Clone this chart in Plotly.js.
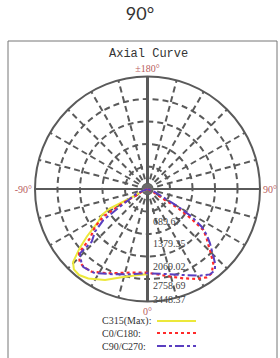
<!DOCTYPE html>
<html>
<head>
<meta charset="utf-8">
<script src="https://cdn.plot.ly/plotly-3.0.1.min.js"></script>
<style>
html,body{margin:0;padding:0;background:#fff;}
#chart{width:280px;height:358px;}
</style>
</head>
<body>
<div id="chart"></div>
<script>
// ---- data ----
const maxIntensity = 3448.37;
const ringValues = [689.67, 1379.35, 2069.02, 2758.69, 3448.37];
const ringLabels = ['689.67', '1379.35', '2069.02', '2758.69', '3448.37'];

const c315Theta = [-90, -65, -62.1, -62.8, -60.4, -56.4, -52, -49, -45.5, -42.5, -38.5, -33.5, -25, -16.3, -6.1, 0];
const c315R     = [0, 196, 721, 1293, 1615, 1811, 2350, 2750, 3200, 3340, 3370, 3290, 3078, 2820, 2651, 2615];

const c0Theta = [-90, -72, -61, -59.8, -57.9, -54.3, -49.4, -47, -43, -39.5, -34, -25, -11, 0, 12.4, 21.8, 28.7, 33.8, 37.3, 41.5, 45.7, 47.4, 50.2, 53.7, 55.8, 57.9, 57.8, 62, 90];
const c0R     = [0, 120, 380, 975, 1600, 1981, 2321, 2870, 3050, 3090, 3060, 2850, 2611, 2566, 2731, 2949, 3144, 3259, 3249, 3042, 2677, 2534, 2361, 2123, 1637, 1114, 634, 200, 0];

const c90Theta = [-90, -68, -57.2, -54.9, -50.9, -46.6, -46.4, -42, -39.4, -32, -21, -10, 0, 12.7, 22.6, 31.2, 36.2, 39.8, 42.3, 46.5, 49, 52.2, 55.2, 57.9, 60.1, 62, 68, 90];
const c90R     = [0, 356, 1002, 1655, 2075, 2353, 2857, 3030, 3100, 3044, 2800, 2650, 2585, 2671, 2855, 3106, 3243, 3232, 3077, 2713, 2538, 2298, 2023, 1599, 1089, 607, 250, 0];

const seriesNames = ['C315(Max):', 'C0/C180:', 'C90/C270:'];
const angleTicks = [0,15,30,45,60,75,90,105,120,135,150,165,180,195,210,225,240,255,270,285,300,315,330,345];
const angleTickText = {0:'0°', 90:'90°', 180:'±180°', 270:'-90°'};

// ---- styles ----
const gridCol = '#5a5a5a';
const labelRed = '#b85c5c';
const W = 280, H = 358;
const px = v => v / W, py = v => 1 - v / H;

const traces = [
  {type:'scatterpolar', mode:'lines', theta:[180,180,0], r:[maxIntensity,0,maxIntensity],
   line:{color:gridCol, width:3}, hoverinfo:'skip', showlegend:false},
  {type:'scatterpolar', mode:'lines', theta:[90,90,270], r:[maxIntensity,0,maxIntensity],
   line:{color:gridCol, width:2}, hoverinfo:'skip', showlegend:false},
  {type:'scatterpolar', mode:'markers', theta:[0], r:[0],
   marker:{color:'#6a6a6a', size:11}, hoverinfo:'skip', showlegend:false},
  {type:'scatterpolar', mode:'lines', name:seriesNames[0], theta:c315Theta, r:c315R,
   line:{color:'#ece83a', width:2}, showlegend:false},
  {type:'scatterpolar', mode:'lines', name:seriesNames[1], theta:c0Theta, r:c0R,
   line:{color:'#ff2a2a', width:2.2, dash:'dot'}, showlegend:false},
  {type:'scatterpolar', mode:'lines', name:seriesNames[2], theta:c90Theta, r:c90R,
   line:{color:'#5a3fc0', width:2, dash:'dashdot'}, showlegend:false}
];

const legendY = [321, 333, 346];
const legendStyles = [
  {color:'#ece83a', width:2, dash:'solid'},
  {color:'#ff2a2a', width:2.2, dash:'dot'},
  {color:'#5a3fc0', width:2, dash:'dashdot'}
];
const ringLabelY = [221, 244, 266, 285, 299];

const annotations = [
  {text:'Axial Curve', xref:'paper', yref:'paper', x:px(148), y:py(54), showarrow:false,
   font:{family:'Liberation Mono', size:12, color:'#333'}, xanchor:'center', yanchor:'middle'}
];
ringLabels.forEach((t,i)=>{
  annotations.push({text:t, xref:'paper', yref:'paper', x:px(151), y:py(ringLabelY[i]), showarrow:false,
    xanchor:'left', yanchor:'middle', font:{family:'Liberation Serif', size:10, color:'#444'}});
});
const shapes = [
  {type:'rect', xref:'paper', yref:'paper', x0:px(8), x1:px(277), y0:-0.05, y1:py(41),
   line:{color:'#777', width:1}, fillcolor:'rgba(0,0,0,0)', layer:'below'}
];
seriesNames.forEach((n,i)=>{
  annotations.push({text:n, xref:'paper', yref:'paper', x:px(100), y:py(legendY[i]), showarrow:false,
    xanchor:'left', yanchor:'middle', font:{family:'Liberation Serif', size:10, color:'#333'}});
  shapes.push({type:'line', xref:'paper', yref:'paper', x0:px(157), x1:px(196), y0:py(legendY[i]), y1:py(legendY[i]),
    line:legendStyles[i]});
});

const layout = {
  width:W, height:H,
  margin:{l:0, r:0, t:0, b:0},
  paper_bgcolor:'#fff',
  showlegend:false,
  title:{text:'90°', x:0.5, xanchor:'center', y:py(14), yanchor:'middle',
         font:{family:'Lato', size:18, color:'#333'}},
  polar:{
    domain:{x:[px(35), px(260)], y:[1-301.5/H, 1-76.5/H]},
    bgcolor:'#fff',
    angularaxis:{
      rotation:-90, direction:'counterclockwise', thetaunit:'degrees',
      tickmode:'array', tickvals:angleTicks,
      ticktext:angleTicks.map(a => angleTickText[a] || ''),
      ticks:'', showline:true, linecolor:gridCol, linewidth:2,
      gridcolor:gridCol, gridwidth:2, griddash:'6px,4px',
      tickfont:{family:'Liberation Serif', size:10, color:labelRed}
    },
    radialaxis:{
      range:[0, maxIntensity], tickmode:'array', tickvals:ringValues,
      showticklabels:false, ticks:'', showline:false,
      gridcolor:gridCol, gridwidth:2, griddash:'6px,4px'
    }
  },
  annotations:annotations,
  shapes:shapes
};

Plotly.newPlot('chart', traces, layout, {displayModeBar:false, staticPlot:true});
</script>
</body>
</html>
